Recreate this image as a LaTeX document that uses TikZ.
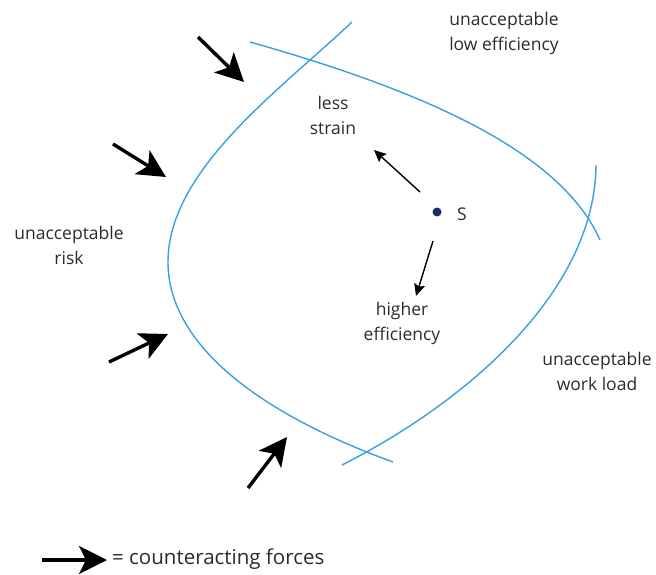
\documentclass[tikz,border=0pt]{standalone}
\usepackage{fontspec}
\setmainfont{Open Sans}
\usetikzlibrary{arrows.meta}
\definecolor{curveblue}{HTML}{3A9FE0}
\definecolor{txt}{HTML}{2B2B2B}
\definecolor{dotblue}{HTML}{1E2A66}
\tikzset{
  boundary/.style={draw=curveblue, line width=1.4pt},
  force/.style={line width=3.4pt, -{Stealth[length=28pt,width=28pt,inset=7pt]}},
  move/.style={line width=1.4pt, -{Stealth[length=12pt,width=11pt,inset=2pt]}},
  lbl/.style={text=txt, font=\fontsize{17.5}{25}\selectfont, align=center, inner sep=0pt},
}
\begin{document}
\begin{tikzpicture}[x=1pt,y=-1pt]
\useasboundingbox (0,0) rectangle (656,574);
% boundaries
\draw[boundary] (352,22) .. controls (280,90) and (168,170) .. (168,262)
                         .. controls (168,340) and (250,410) .. (393,462);
\draw[boundary] (250,42) .. controls (420,90) and (560,150) .. (600,240);
\draw[boundary] (596,165) .. controls (595,290) and (470,400) .. (342,465);
% labels
\node[lbl] (lowEff) at (504,33) {unacceptable\\low efficiency};
\node[lbl] (strain) at (333,115) {less\\strain};
\node[lbl] (risk) at (69,245) {unacceptable\\risk};
\node[lbl] (highEff) at (402,323) {higher\\efficiency};
\node[lbl] (work) at (597,371) {unacceptable\\work load};
% state point
\node[circle, fill=dotblue, inner sep=0pt, minimum size=9pt] (S) at (437,212) {};
\node[lbl, anchor=west] (Slbl) at (457,214) {S};
% movement arrows
\coordinate (m1a) at (420,192); \coordinate (m1b) at (374,150);
\coordinate (m2a) at (433,241); \coordinate (m2b) at (416,296);
\draw[move] (m1a) -- (m1b);
\draw[move] (m2a) -- (m2b);
% counteracting forces
\coordinate (f1a) at (198,37);  \coordinate (f1b) at (244,82);
\coordinate (f2a) at (113,144); \coordinate (f2b) at (166,177);
\coordinate (f3a) at (109,362); \coordinate (f3b) at (168,334);
\coordinate (f4a) at (248,488); \coordinate (f4b) at (287,437);
\draw[force] (f1a) -- (f1b);
\draw[force] (f2a) -- (f2b);
\draw[force] (f3a) -- (f3b);
\draw[force] (f4a) -- (f4b);
% legend
\coordinate (la) at (42,560); \coordinate (lb) at (107,560);
\draw[force] (la) -- (lb);
\node[lbl, anchor=west, font=\fontsize{20.5}{25}\selectfont] (legend) at (112,559) {= counteracting forces};
\end{tikzpicture}
\end{document}
